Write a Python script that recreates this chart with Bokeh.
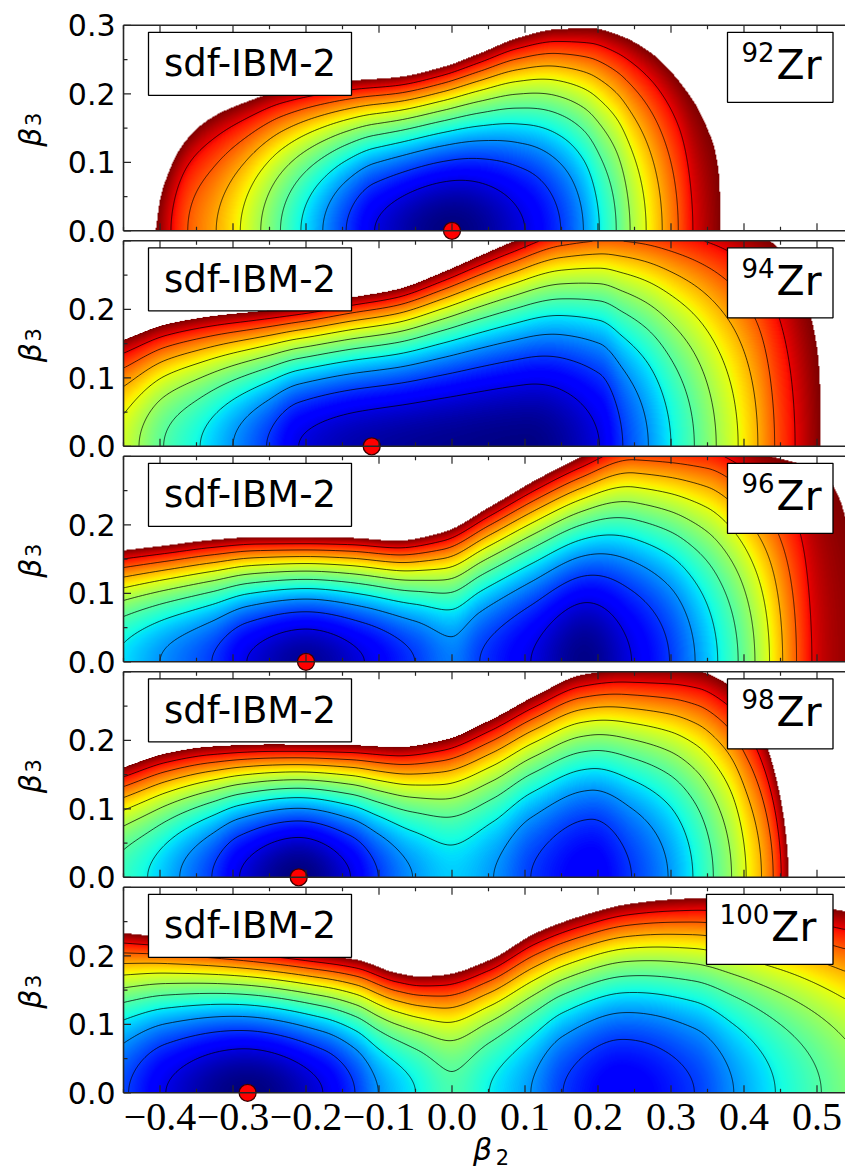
import numpy as np
from bokeh.plotting import figure
from bokeh.models import LinearColorMapper, Range1d
from bokeh.core.properties import value
from bokeh.embed import file_html
from bokeh.resources import INLINE

FONT = "DejaVu Sans"
NARROW = "Liberation Sans Narrow"
MODEL_NAME = "sdf-IBM-2"
mass_numbers = ["92", "94", "96", "98", "100"]
# beta2 of the energy minimum on the beta3 = 0 axis (red dots)
minimum_b2 = [0.0, -0.11, -0.20, -0.21, -0.28]

E_CUT = 11.0                      # energy (in contour steps) where the map is cut off
contour_levels = [1, 2, 3, 4, 5, 6, 7, 8, 9, 10]

x_major = [-0.4, -0.3, -0.2, -0.1, 0.0, 0.1, 0.2, 0.3, 0.4, 0.5]
x_minor = [-0.45, -0.35, -0.25, -0.15, -0.05, 0.05, 0.15, 0.25, 0.35, 0.45]
y_major = [0.0, 0.1, 0.2, 0.3]
y_minor = [0.05, 0.15, 0.25]

# Energy along beta3 = 0: beta2 positions and energies (contour steps)
zr92_axis_b2 = [-0.50, -0.406, -0.385, -0.362, -0.323, -0.290, -0.262, -0.235, -0.207, -0.177,
                -0.145, -0.106, 0.0, 0.100, 0.149, 0.180, 0.202, 0.225, 0.244,
                0.266, 0.288, 0.310, 0.330, 0.367, 0.45]
zr92_axis_e = [13.5, 11, 10, 9, 8, 7, 6, 5, 4, 3, 2, 1, 0.0, 1, 2, 3, 4, 5, 6, 7, 8,
               9, 10, 11, 13.5]
# Upper edge of the map (where the energy reaches E_CUT)
zr92_rim_b2 = [-0.406, -0.400, -0.390, -0.375, -0.350, -0.320, -0.280, -0.234, -0.139, -0.076,
               -0.013, 0.038, 0.089, 0.145, 0.190, 0.228, 0.272, 0.316, 0.348, 0.364, 0.368]
zr92_rim_b3 = [0.0, 0.045, 0.080, 0.115, 0.148, 0.170, 0.188, 0.204, 0.218, 0.223, 0.238,
               0.258, 0.280, 0.293, 0.294, 0.284, 0.258, 0.209, 0.150, 0.087, 0.0]

zr94_axis_b2 = [-0.55, -0.45, -0.395, -0.345, -0.300, -0.254, -0.210, -0.12, 0.0, 0.10, 0.202,
                0.234, 0.269, 0.300, 0.332, 0.362, 0.392, 0.419, 0.442, 0.470, 0.504, 0.58]
zr94_axis_e = [8.5, 6.6, 5, 4, 3, 2, 1, 0.4, 0.15, 0.05, 1, 2, 3, 4, 5, 6, 7, 8, 9, 10, 11, 13]
zr94_rim_b2 = [-0.449, -0.392, -0.329, -0.266, -0.202, -0.139, -0.076, -0.013, 0.038, 0.082,
               0.15, 0.25, 0.35, 0.433, 0.456, 0.474, 0.488, 0.497, 0.502, 0.505]
zr94_rim_b3 = [0.155, 0.177, 0.189, 0.196, 0.204, 0.216, 0.228, 0.253, 0.277, 0.297, 0.325,
               0.34, 0.33, 0.299, 0.275, 0.239, 0.197, 0.155, 0.107, 0.0]

zr96_axis_b2 = [-0.55, -0.45, -0.40, -0.329, -0.281, -0.20, -0.12, -0.051, 0.0, 0.038, 0.108,
                0.18, 0.246, 0.298, 0.333, 0.364, 0.392, 0.415, 0.435, 0.453, 0.472, 0.493,
                0.515, 0.565, 0.65]
zr96_axis_e = [5.5, 3.8, 3, 2, 1, 0.25, 1, 2, 2.7, 2, 1, 0.1, 1, 2, 3, 4, 5, 6, 7, 8, 9, 10,
               10.5, 11, 13]
zr96_rim_b2 = [-0.449, -0.392, -0.329, -0.266, -0.202, -0.139, -0.076, -0.013, 0.051, 0.114,
               0.177, 0.25, 0.35, 0.42, 0.456, 0.49, 0.515, 0.53, 0.545]
zr96_rim_b3 = [0.162, 0.169, 0.177, 0.181, 0.181, 0.180, 0.176, 0.188, 0.225, 0.264, 0.298,
               0.33, 0.33, 0.303, 0.293, 0.283, 0.265, 0.235, 0.18]

zr98_axis_b2 = [-0.55, -0.45, -0.417, -0.373, -0.329, -0.291, -0.21, -0.139, -0.101, -0.054,
                0.0, 0.057, 0.108, 0.19, 0.246, 0.296, 0.330, 0.358, 0.383, 0.403, 0.424,
                0.440, 0.451, 0.460, 0.52]
zr98_axis_e = [6.5, 4.6, 4, 3, 2, 1, 0.0, 1, 2, 3, 3.6, 3, 2, 1.2, 2, 3, 4, 5, 6, 7, 8, 9, 10,
               11, 15]
zr98_rim_b2 = [-0.449, -0.392, -0.329, -0.25, -0.139, -0.076, -0.013, 0.051, 0.114, 0.177,
               0.24, 0.30, 0.337, 0.374, 0.406, 0.428, 0.447, 0.456, 0.461]
zr98_rim_b3 = [0.160, 0.180, 0.190, 0.193, 0.192, 0.189, 0.199, 0.228, 0.264, 0.294, 0.302,
               0.302, 0.299, 0.282, 0.245, 0.197, 0.124, 0.064, 0.0]

zr100_axis_b2 = [-0.60, -0.49, -0.443, -0.392, -0.28, -0.177, -0.133, -0.101, -0.05, 0.0,
                 0.051, 0.108, 0.152, 0.23, 0.332, 0.386, 0.443, 0.506, 0.60]
zr100_axis_e = [5, 3, 2, 1, 0.0, 1, 2, 3, 4, 4.8, 4, 3, 2, 1.2, 2, 3, 4, 5, 6.5]
zr100_rim_b2 = [-0.449, -0.3, -0.2, -0.13, -0.076, -0.044, -0.013, 0.051, 0.114, 0.177, 0.24,
                0.304, 0.35, 0.45, 0.536]
zr100_rim_b3 = [0.232, 0.215, 0.203, 0.193, 0.174, 0.169, 0.171, 0.193, 0.232, 0.257, 0.274,
                0.281, 0.283, 0.278, 0.264]

surfaces = [
    (zr92_axis_b2, zr92_axis_e, zr92_rim_b2, zr92_rim_b3),
    (zr94_axis_b2, zr94_axis_e, zr94_rim_b2, zr94_rim_b3),
    (zr96_axis_b2, zr96_axis_e, zr96_rim_b2, zr96_rim_b3),
    (zr98_axis_b2, zr98_axis_e, zr98_rim_b2, zr98_rim_b3),
    (zr100_axis_b2, zr100_axis_e, zr100_rim_b2, zr100_rim_b3),
]

# ---- page geometry: one canvas, five stacked panels ----
W, H = 845, 1172
B2_LO, B2_HI = -0.45, 0.539
B3_TOP = 0.3
PX_X = 730.0                    # pixels per unit beta2
PX_Y = 685.0                    # pixels per unit beta3
FRAME_LEFT = 123                # pixels from the left page edge
PANEL_TOP = [24.8, 240.3, 455.8, 671.3, 886.8]
FRAME_H = B3_TOP * PX_Y

X0 = B2_LO - FRAME_LEFT / PX_X
base = [(H - (t + FRAME_H)) / PX_Y for t in PANEL_TOP]   # data y of beta3 = 0 per panel


def px_x(px):
    """offset in pixels from the frame's left edge -> x data"""
    return B2_LO + px / PX_X


def px_y(i, px):
    """offset in pixels below panel i's top edge -> y data"""
    return base[i] + B3_TOP - px / PX_Y


def jet_palette(n=256):
    t = np.linspace(0, 1, n)
    r = np.interp(t, [0, 0.35, 0.66, 0.89, 1], [0, 0, 1, 1, 0.5])
    g = np.interp(t, [0, 0.125, 0.375, 0.64, 0.91, 1], [0, 0, 1, 1, 0, 0])
    b = np.interp(t, [0, 0.11, 0.34, 0.65, 1], [0.5, 1, 1, 0, 0])
    return ["#%02x%02x%02x" % (int(round(255 * a)), int(round(255 * c)), int(round(255 * d)))
            for a, c, d in zip(r, g, b)]


def pchip(xk, yk, x):
    """monotone piecewise-cubic (Fritsch-Carlson) curve through the knots"""
    xk = np.asarray(xk, float)
    yk = np.asarray(yk, float)
    h = np.diff(xk)
    d = np.diff(yk) / h
    m = np.zeros_like(yk)
    m[0], m[-1] = d[0], d[-1]
    for k in range(1, len(xk) - 1):
        if d[k - 1] * d[k] > 0:
            w1 = 2 * h[k] + h[k - 1]
            w2 = h[k] + 2 * h[k - 1]
            m[k] = (w1 + w2) / (w1 / d[k - 1] + w2 / d[k])
    xc = np.clip(x, xk[0], xk[-1])
    j = np.clip(np.searchsorted(xk, xc) - 1, 0, len(xk) - 2)
    t = (xc - xk[j]) / h[j]
    h00 = (1 + 2 * t) * (1 - t) ** 2
    h10 = t * (1 - t) ** 2
    h01 = t * t * (3 - 2 * t)
    h11 = t * t * (t - 1)
    return h00 * yk[j] + h10 * h[j] * m[j] + h01 * yk[j + 1] + h11 * h[j] * m[j + 1]


NX = int(round((B2_HI - B2_LO) * PX_X))
NY = int(round(FRAME_H))
xg = B2_LO + (np.arange(NX) + 0.5) * (B2_HI - B2_LO) / NX
yg = (np.arange(NY) + 0.5) * B3_TOP / NY


def energy_surface(axis_b2, axis_e, rim_b2, rim_b3):
    """energy on the grid: axis profile plus a beta3^2 rise reaching E_CUT at the rim"""
    v = pchip(axis_b2, axis_e, xg)
    rim = np.maximum(pchip(rim_b2, rim_b3, xg), 1e-3)
    head = np.maximum(E_CUT - v, 0.0)
    return v[None, :] + head[None, :] * (yg[:, None] / rim[None, :]) ** 2


p = figure(width=W, height=H, x_range=Range1d(X0, X0 + W / PX_X), y_range=Range1d(0, H / PX_Y),
           output_backend="svg", toolbar_location=None, min_border=0,
           x_axis_location=None, y_axis_location=None, outline_line_color=None,
           background_fill_color="white", border_fill_color="white")
p.grid.visible = False

cmap = LinearColorMapper(palette=jet_palette(), low=0.0, high=E_CUT, nan_color="rgba(0,0,0,0)")

for i, surf in enumerate(surfaces):
    E = energy_surface(*surf)
    shown = np.where(E <= E_CUT, E, np.nan)
    p.image(image=[shown], x=B2_LO, y=base[i], dw=B2_HI - B2_LO, dh=B3_TOP, color_mapper=cmap)
    p.contour(x=xg, y=yg + base[i], z=E, levels=contour_levels, line_color="black",
              line_alpha=0.72, line_width=1.0)

# energy minima
p.scatter(x=minimum_b2, y=base, marker="circle", size=17, fill_color="#ff0000",
          line_color="#3a0000", line_width=1.3)

# frames and inward ticks
FRAME_COLOR = "#262626"
fx0, fy0, fx1, fy1 = [], [], [], []
tx0, ty0, tx1, ty1 = [], [], [], []
MAJ_X, MIN_X = 7.5 / PX_Y, 4.0 / PX_Y
MAJ_Y, MIN_Y = 7.5 / PX_X, 4.0 / PX_X
for i in range(len(mass_numbers)):
    b, t = base[i], base[i] + B3_TOP
    fx0 += [B2_LO, B2_LO, B2_LO]
    fy0 += [b, b, t]
    fx1 += [B2_LO, B2_HI + 0.01, B2_HI + 0.01]
    fy1 += [t, b, t]
    for v, ln in [(v, MAJ_X) for v in x_major] + [(v, MIN_X) for v in x_minor]:
        tx0 += [v, v]
        ty0 += [b, t]
        tx1 += [v, v]
        ty1 += [b + ln, t - ln]
    for v, ln in [(v, MAJ_Y) for v in y_major] + [(v, MIN_Y) for v in y_minor]:
        tx0.append(B2_LO)
        ty0.append(b + v)
        tx1.append(B2_LO + ln)
        ty1.append(b + v)
p.segment(x0=tx0, y0=ty0, x1=tx1, y1=ty1, line_color=FRAME_COLOR, line_width=1.2)
p.segment(x0=fx0, y0=fy0, x1=fx1, y1=fy1, line_color=FRAME_COLOR, line_width=1.6)

# y tick labels (the top label only on the first panel)
lx, ly, lt = [], [], []
for i in range(len(mass_numbers)):
    for v in y_major:
        if v >= B3_TOP - 1e-9 and i > 0:
            continue
        lx.append(B2_LO - 8 / PX_X)
        ly.append(base[i] + v)
        lt.append("%.1f" % v)
p.text(x=lx, y=ly, text=lt, text_font=value(FONT), text_font_size="30px",
       text_align="right", text_baseline="middle", text_color="black")

# x tick labels under the last panel
p.text(x=x_major, y=[base[-1] - 11 / PX_Y] * len(x_major),
       text=[("%.1f" % v).replace("-", "\u2212") for v in x_major],
       text_font=value(NARROW), text_font_size="40px",
       text_align="center", text_baseline="top", text_color="black")

# panel labels
box_l, box_r, box_t, box_b = [], [], [], []
name_x, name_y, zr_x, zr_y, sup_x, sup_y = [], [], [], [], [], []
for i, mass in enumerate(mass_numbers):
    wide = 21 if len(mass) == 3 else 0
    box_l += [px_x(25), px_x(604 - wide)]
    box_r += [px_x(228), px_x(709.5)]
    box_t += [px_y(i, 7), px_y(i, 7)]
    box_b += [px_y(i, 70), px_y(i, 77)]
    name_x.append(px_x(126.5))
    name_y.append(px_y(i, 38.5))
    zr_x.append(px_x(698 - wide / 4))
    zr_y.append(px_y(i, 40))
    sup_x.append(px_x(651 - wide / 4))
    sup_y.append(px_y(i, 27))
p.quad(left=box_l, right=box_r, top=box_t, bottom=box_b, fill_color="white",
       line_color="black", line_width=1.3)
p.text(x=name_x, y=name_y, text=[MODEL_NAME] * len(mass_numbers), text_font=value(FONT),
       text_font_size="37px", text_align="center", text_baseline="middle", text_color="black")
p.text(x=zr_x, y=zr_y, text=["Zr"] * len(mass_numbers), text_font=value(FONT),
       text_font_size="41px", text_align="right", text_baseline="middle", text_color="black")
p.text(x=sup_x, y=sup_y, text=mass_numbers, text_font=value(FONT),
       text_font_size="26px", text_align="right", text_baseline="middle", text_color="black")

# axis titles: beta_3 on every panel, beta_2 under the last one
n = len(mass_numbers)
p.text(x=[px_x(-93)] * n, y=[px_y(i, 112) for i in range(n)], text=["\u03b2"] * n,
       angle=np.pi / 2, text_font=value(FONT), text_font_style="italic",
       text_font_size="30px", text_align="center", text_baseline="middle", text_color="black")
p.text(x=[px_x(-91)] * n, y=[px_y(i, 94) for i in range(n)], text=["3"] * n,
       angle=np.pi / 2, text_font=value(FONT), text_font_size="21px",
       text_align="center", text_baseline="middle", text_color="black")
p.text(x=[px_x(359)], y=[px_y(n - 1, 262)], text=["\u03b2"], text_font=value(FONT),
       text_font_style="italic", text_font_size="30px", text_align="center",
       text_baseline="middle", text_color="black")
p.text(x=[px_x(379)], y=[px_y(n - 1, 270)], text=["2"], text_font=value(FONT),
       text_font_size="21px", text_align="center", text_baseline="middle", text_color="black")

open("out.html", "w").write(file_html(p, INLINE))
